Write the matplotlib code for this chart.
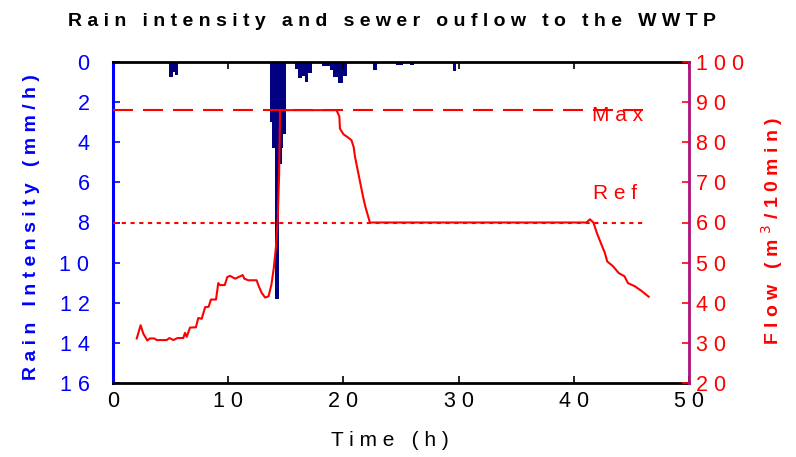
import matplotlib
matplotlib.use("Agg")
import matplotlib.pyplot as plt
from matplotlib.ticker import FuncFormatter, MultipleLocator

plt.rcParams['font.family'] = ['Liberation Sans', 'DejaVu Sans']

# ---------------- data ----------------
flow_time = [2.06, 2.4, 2.63, 2.98, 3.2, 3.6, 3.79, 4.66, 4.9, 5.24, 5.6, 6.1, 6.25, 6.4,
             6.68, 7.2, 7.4, 7.7, 8.0, 8.3, 8.5, 8.94, 9.14, 9.29, 9.7, 9.92, 10.16, 10.6,
             10.9, 11.26, 11.4, 11.75, 12.47, 12.6, 12.9, 13.2, 13.5, 13.75, 13.95, 14.15,
             14.3, 14.42, 14.5, 19.4, 19.65, 19.7, 20.0, 20.4, 20.7, 20.9, 21.0, 21.7, 21.9,
             22.3, 41.1, 41.4, 41.7, 42.0, 42.4, 42.7, 42.9, 43.4, 43.9, 44.4, 44.7, 45.3,
             45.9, 46.5]
flow = [31.1, 34.4, 32.3, 30.6, 31.1, 31.1, 30.7, 30.7, 31.2, 30.7, 31.2, 31.2, 32.5, 31.5,
        33.8, 33.9, 36.2, 36.0, 38.9, 39.0, 40.8, 40.8, 44.9, 44.4, 44.4, 46.4, 46.7, 46.0,
        46.4, 46.9, 46.0, 45.6, 45.6, 44.5, 42.5, 41.3, 41.6, 44.5, 48.5, 54.0,
        61.0, 72.0, 88.0, 88.0, 86.4, 83.4, 82.0, 81.2, 80.5, 78.7, 76.5, 66.5, 64.0,
        60.0, 60.0, 60.8, 60.0, 57.4, 54.5, 52.4, 50.3, 49.1, 47.4, 46.6, 44.9, 44.1,
        42.9, 41.5]

rain_edges = [4.9, 5.25, 5.4, 5.67, 13.63, 13.77, 14.06, 14.44, 14.65, 14.78, 15.02, 15.8,
              16.09, 16.38, 16.67, 16.95, 17.25, 18.12, 18.84, 19.12, 19.56, 19.99, 20.34,
              22.6, 22.9, 24.6, 25.2, 25.8, 26.1, 29.5, 29.8]
rain_intensity = [0.75, 0.5, 0.65, 0, 3.0, 4.3, 11.8, 5.1, 4.3, 3.6, 0, 0.35, 0.8, 0.7, 0.98,
                  0.55, 0, 0.2, 0.4, 0.75, 1.05, 0.7, 0, 0.4, 0, 0.15, 0, 0.15, 0, 0.45]

max_flow = 88.0
ref_flow = 60.0
limit_span = [0.0, 46.3]

title = "Rain intensity and sewer ouflow to the WWTP"


def spaced(s):
    return "   ".join(" ".join(w) for w in s.split(" "))


num_fmt = FuncFormatter(lambda v, p: " ".join(str(int(round(v)))))

# ---------------- figure ----------------
fig = plt.figure(figsize=(7.96, 4.57), dpi=100)
ax1 = fig.add_axes([113 / 796, 1 - 383 / 457, 576 / 796, 321 / 457])
ax2 = ax1.twinx()

navy = '#000080'
blue = '#0000FF'
red = '#FF0000'

ax1.stairs(rain_intensity, rain_edges, baseline=0, fill=True, color=navy, lw=0)
ax1.set_xlim(0, 50)
ax1.set_ylim(16, 0)
ax1.xaxis.set_major_locator(MultipleLocator(10))
ax1.yaxis.set_major_locator(MultipleLocator(2))
ax1.xaxis.set_major_formatter(num_fmt)
ax1.yaxis.set_major_formatter(num_fmt)

ax2.plot(flow_time, flow, color=red, lw=1.5)
ax2.plot(limit_span, [max_flow, max_flow], color=red, lw=1.5, linestyle=(0, (9.6, 4.8)))
ax2.plot(limit_span, [ref_flow, ref_flow], color=red, lw=1.5, linestyle=(0, (2.0, 2.2)))
ax2.set_ylim(20, 100)
ax2.yaxis.set_major_locator(MultipleLocator(10))
ax2.yaxis.set_major_formatter(num_fmt)

tick_fs = 15.5
ax1.tick_params(axis='x', direction='in', top=True, bottom=True, length=5, width=1.2,
                colors='black', labelsize=tick_fs, pad=6)
ax1.tick_params(axis='y', direction='in', left=True, right=False, length=5, width=1.2,
                colors=blue, labelsize=tick_fs, pad=17)
ax2.tick_params(axis='y', direction='in', right=True, left=False, length=5, width=1.2,
                colors=red, labelsize=tick_fs, pad=5)

for s in ['top', 'bottom']:
    ax1.spines[s].set_color('black')
    ax1.spines[s].set_linewidth(2)
ax1.spines['left'].set_color(blue)
ax1.spines['left'].set_linewidth(2.2)
ax1.spines['right'].set_visible(False)
for s in ['top', 'bottom', 'left']:
    ax2.spines[s].set_visible(False)
ax2.spines['right'].set_color('#B0107A')
ax2.spines['right'].set_linewidth(2)

ax2.text(41.6, 86.6, spaced("Max"), color=red, fontsize=15, ha='left', va='center')
ax2.text(41.7, 67.2, spaced("Ref"), color=red, fontsize=15, ha='left', va='center')

ax1.set_ylabel(spaced("Rain Intensity (mm/h)"), color=blue, fontsize=14, fontweight='bold')
ax1.yaxis.set_label_coords(-0.127, 0.485)
ax2.set_ylabel("F l o w   ( m $^{3}$ / 1 0 m i n )", color=red, fontsize=14,
               fontweight='bold', rotation=90)
ax2.yaxis.set_label_coords(1.122, 0.475)
ax1.set_xlabel(spaced("Time (h)"), color='black', fontsize=15)
ax1.xaxis.set_label_coords(0.48, -0.15)

fig.text(392 / 796, 1 - 22 / 457, spaced(title), ha='center', va='center',
         fontsize=14, fontweight='bold', color='black')

fig.savefig("out.png", dpi=100)
